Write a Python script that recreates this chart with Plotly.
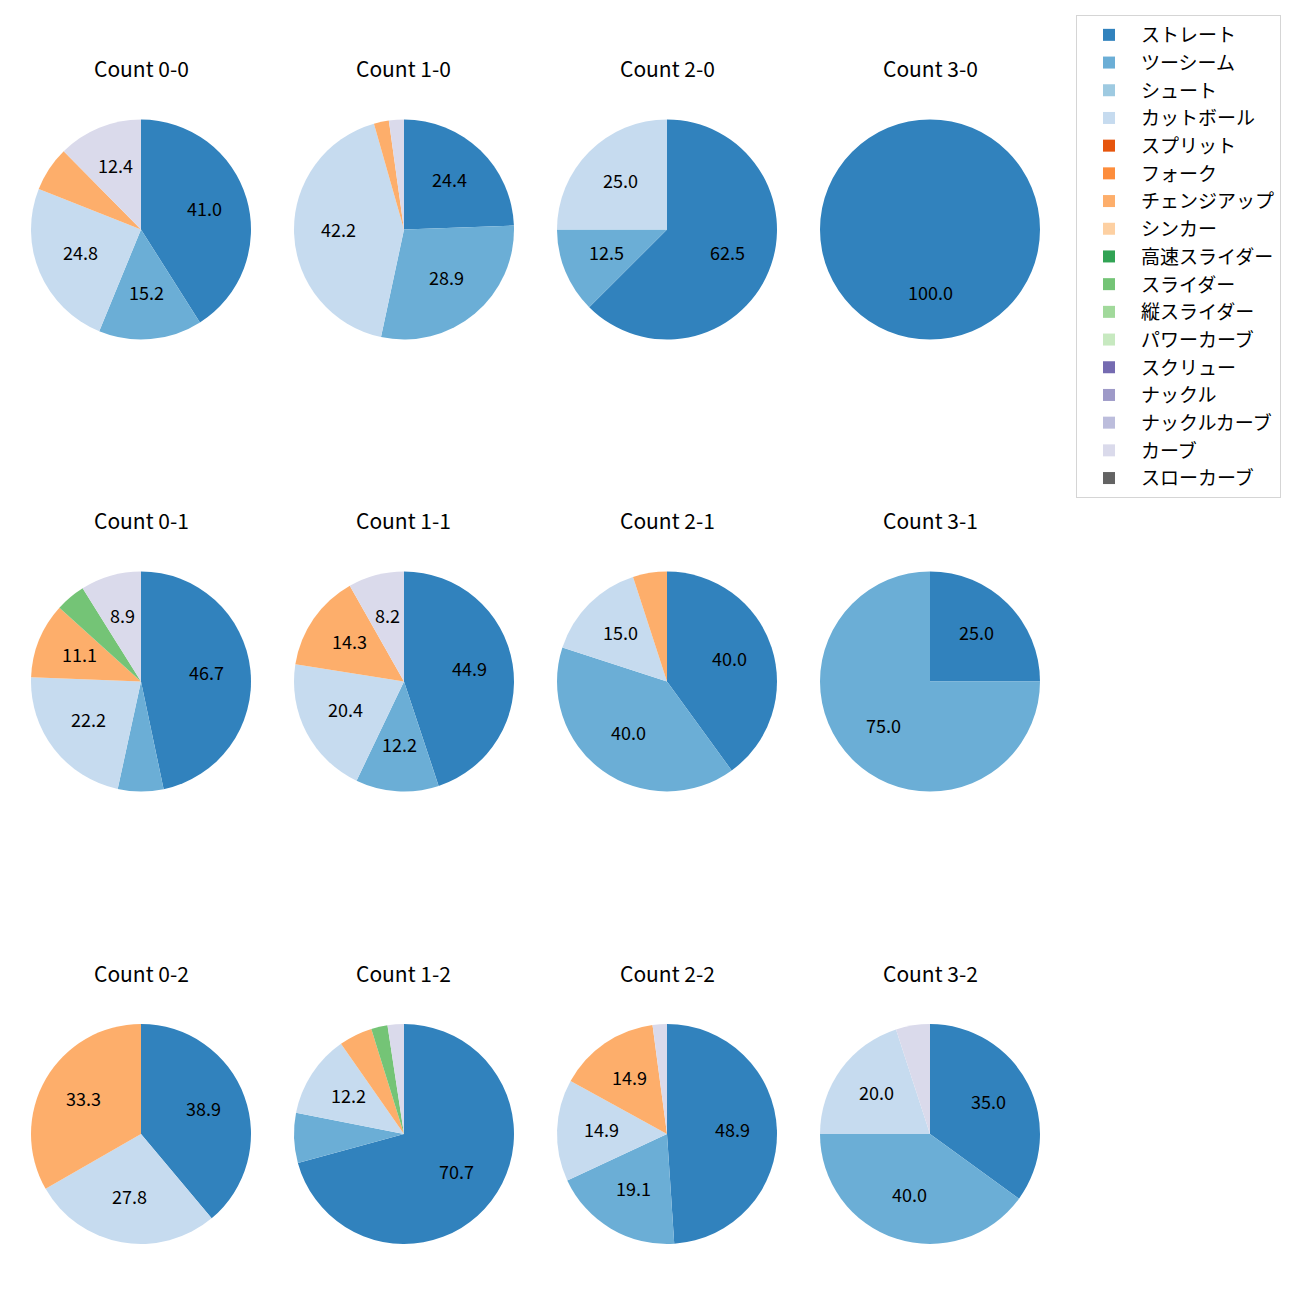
import math
import plotly.graph_objects as go

pitch_types = ["ストレート", "ツーシーム", "シュート", "カットボール", "スプリット", "フォーク",
               "チェンジアップ", "シンカー", "高速スライダー", "スライダー", "縦スライダー",
               "パワーカーブ", "スクリュー", "ナックル", "ナックルカーブ", "カーブ", "スローカーブ"]
colors = ["#3182bd", "#6baed6", "#9ecae1", "#c6dbef", "#e6550d", "#fd8d3c", "#fdae6b", "#fdd0a2",
          "#31a354", "#74c476", "#a1d99b", "#c7e9c0", "#756bb1", "#9e9ac8", "#bcbddc", "#dadaeb",
          "#636363"]

titles = ["Count 0-0", "Count 1-0", "Count 2-0", "Count 3-0",
          "Count 0-1", "Count 1-1", "Count 2-1", "Count 3-1",
          "Count 0-2", "Count 1-2", "Count 2-2", "Count 3-2"]

# percentages per count, keyed by pitch type
count_00 = {"ストレート": 41.0, "ツーシーム": 15.2, "カットボール": 24.8, "チェンジアップ": 6.6, "カーブ": 12.4}
count_10 = {"ストレート": 24.4, "ツーシーム": 28.9, "カットボール": 42.2, "チェンジアップ": 2.2, "カーブ": 2.2}
count_20 = {"ストレート": 62.5, "ツーシーム": 12.5, "カットボール": 25.0}
count_30 = {"ストレート": 100.0}
count_01 = {"ストレート": 46.7, "ツーシーム": 6.7, "カットボール": 22.2, "チェンジアップ": 11.1, "スライダー": 4.4, "カーブ": 8.9}
count_11 = {"ストレート": 44.9, "ツーシーム": 12.2, "カットボール": 20.4, "チェンジアップ": 14.3, "カーブ": 8.2}
count_21 = {"ストレート": 40.0, "ツーシーム": 40.0, "カットボール": 15.0, "チェンジアップ": 5.0}
count_31 = {"ストレート": 25.0, "ツーシーム": 75.0}
count_02 = {"ストレート": 38.9, "カットボール": 27.8, "チェンジアップ": 33.3}
count_12 = {"ストレート": 70.7, "ツーシーム": 7.3, "カットボール": 12.2, "チェンジアップ": 4.9, "スライダー": 2.4, "カーブ": 2.4}
count_22 = {"ストレート": 48.9, "ツーシーム": 19.1, "カットボール": 14.9, "チェンジアップ": 14.9, "カーブ": 2.1}
count_32 = {"ストレート": 35.0, "ツーシーム": 40.0, "カットボール": 20.0, "カーブ": 5.0}

data = [count_00, count_10, count_20, count_30,
        count_01, count_11, count_21, count_31,
        count_02, count_12, count_22, count_32]

W = H = 1300
col_cx = [141, 404, 667, 930]
row_cy = [229.5, 681.5, 1134]
R = 110
FONT = "Noto Sans CJK JP, DejaVu Sans, sans-serif"

fig = go.Figure()
annotations = []
for i, (title, d) in enumerate(zip(titles, data)):
    r, c = divmod(i, 4)
    cx, cy = col_cx[c], row_cy[r]
    vals = [d.get(p, 0) for p in pitch_types]
    total = sum(vals)
    fig.add_trace(go.Pie(
        labels=pitch_types, values=vals, sort=False, direction="clockwise", rotation=0,
        marker=dict(colors=colors, line=dict(width=0)),
        textinfo="none", hoverinfo="skip",
        domain=dict(x=[(cx - R) / W, (cx + R) / W], y=[1 - (cy + R) / H, 1 - (cy - R) / H]),
        showlegend=(i == 0),
    ))
    cum = 0
    for v in vals:
        if v > 0:
            pct = 100 * v / total
            if pct >= 7.5:
                th = 2 * math.pi * (cum + v / 2) / total
                x = cx + 0.6 * R * math.sin(th)
                y = cy - 0.6 * R * math.cos(th) - 3
                annotations.append(dict(x=x / W, y=1 - y / H, xref="paper", yref="paper",
                                        xanchor="center", yanchor="middle",
                                        text=f"{v:.1f}", showarrow=False,
                                        font=dict(size=18, color="black", family=FONT)))
        cum += v
    annotations.append(dict(x=cx / W, y=1 - (cy - 161.5) / H, xref="paper", yref="paper",
                            xanchor="center", yanchor="middle",
                            text=title, showarrow=False,
                            font=dict(size=21, color="black", family=FONT)))

fig.update_layout(
    width=W, height=H, margin=dict(l=0, r=0, t=0, b=0),
    paper_bgcolor="white", plot_bgcolor="white",
    annotations=annotations,
    legend=dict(x=1076 / W, y=1 - 15 / H, xanchor="left", yanchor="top",
                bordercolor="#d5d5d5", borderwidth=1, bgcolor="white",
                itemwidth=54,
                font=dict(size=19, family=FONT, color="black"), traceorder="normal"),
)
fig.write_html("out.html", config={"displayModeBar": False},
               post_script=["document.body.style.margin='0';"])
